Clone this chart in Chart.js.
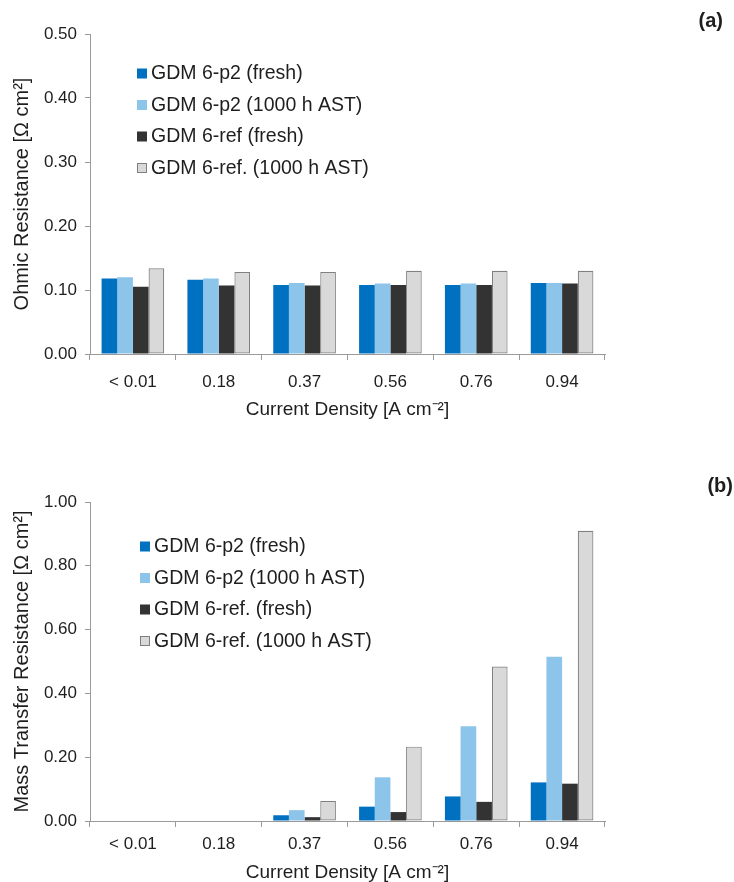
<!DOCTYPE html>
<html>
<head>
<meta charset="utf-8">
<script src="https://cdn.jsdelivr.net/npm/chart.js@4.4.1/dist/chart.umd.min.js"></script>
<style>
  body { margin: 0; background: #fff; }
  .painel { position: absolute; left: 0; width: 734px; height: 441px; }
</style>
</head>
<body>
<div class="painel" style="top:0"><canvas id="graficoA" width="734" height="441"></canvas></div>
<div class="painel" style="top:441px"><canvas id="graficoB" width="734" height="441"></canvas></div>
<script>
// categorias (densidade de corrente)
const categorias = ['< 0.01', '0.18', '0.37', '0.56', '0.76', '0.94'];

// (a) resistência ôhmica
const ohmP2Fresco = [0.118, 0.116, 0.108, 0.108, 0.108, 0.111];
const ohmP2Ast = [0.120, 0.118, 0.111, 0.110, 0.110, 0.111];
const ohmRefFresco = [0.105, 0.107, 0.107, 0.108, 0.108, 0.110];
const ohmRefAst = [0.134, 0.128, 0.128, 0.130, 0.130, 0.130];
const ticksA = [0, 0.1, 0.2, 0.3, 0.4, 0.5];

// (b) resistência de transferência de massa
const mtP2Fresco = [0, 0, 0.018, 0.045, 0.077, 0.121];
const mtP2Ast = [0, 0, 0.034, 0.137, 0.297, 0.515];
const mtRefFresco = [0, 0, 0.012, 0.028, 0.060, 0.117];
const mtRefAst = [0, 0, 0.063, 0.233, 0.484, 0.910];
const ticksB = [0, 0.2, 0.4, 0.6, 0.8, 1.0];

const fonte = '"Liberation Sans", Arial, sans-serif';
const corTexto = '#1e1e1e';
const corEixo = '#9a9a9a';

const legendaFixa = {
  id: 'legendaFixa',
  afterDraw(chart, args, opts) {
    const ctx = chart.ctx;
    ctx.save();
    ctx.font = '19.5px ' + fonte;
    ctx.textBaseline = 'middle';
    chart.data.datasets.forEach((ds, i) => {
      const y = opts.y + i * opts.passo;
      ctx.fillStyle = ds.backgroundColor;
      ctx.fillRect(opts.x, y - 4.5, 10, 10);
      if (ds.borderWidth) {
        ctx.strokeStyle = ds.borderColor;
        ctx.lineWidth = 1;
        ctx.strokeRect(opts.x + 0.5, y - 4, 9, 9);
      }
      ctx.fillStyle = corTexto;
      ctx.fillText(ds.label, opts.x + 14, y + 1);
    });
    // rótulo do painel
    ctx.font = 'bold 20px ' + fonte;
    ctx.textAlign = 'right';
    ctx.fillText(opts.rotulo, opts.rx, opts.ry);
    ctx.restore();
  }
};

function conjuntos(v1, v2, v3, v4, nomes) {
  return [
    { label: nomes[0], data: v1, backgroundColor: '#0070c0', borderWidth: 0 },
    { label: nomes[1], data: v2, backgroundColor: '#8dc4e9', borderWidth: 0 },
    { label: nomes[2], data: v3, backgroundColor: '#333333', borderWidth: 0 },
    { label: nomes[3], data: v4, backgroundColor: '#d9d9d9', borderColor: '#808080', borderWidth: 1.2, borderSkipped: false }
  ];
}

function criarGrafico(id, datasets, tituloY, ticks, topo, alturaX, padTicksX, tituloPadX, legenda) {
  const ctx = document.getElementById(id).getContext('2d');
  return new Chart(ctx, {
    type: 'bar',
    data: { labels: categorias, datasets: datasets },
    plugins: [legendaFixa],
    options: {
      responsive: false,
      animation: false,
      layout: { padding: { top: topo, right: 129, left: 0, bottom: 0 } },
      datasets: { bar: { categoryPercentage: 0.73, barPercentage: 1.0 } },
      plugins: {
        legend: { display: false },
        tooltip: { enabled: false },
        legendaFixa: legenda
      },
      scales: {
        x: {
          afterFit: s => { s.height = alturaX; },
          grid: { drawOnChartArea: false, tickLength: 6, color: corEixo, offset: true },
          border: { color: corEixo },
          ticks: { color: corTexto, font: { family: fonte, size: 17 }, padding: padTicksX },
          title: {
            display: true, text: 'Current Density [A cm⁻²]',
            color: corTexto, font: { family: fonte, size: 19 }, padding: tituloPadX
          }
        },
        y: {
          min: ticks[0], max: ticks[ticks.length - 1],
          afterFit: s => { s.width = 90; },
          afterBuildTicks: s => { s.ticks = ticks.map(v => ({ value: v })); },
          grid: { drawOnChartArea: false, tickLength: 5, color: corEixo },
          border: { color: corEixo },
          ticks: {
            color: corTexto, font: { family: fonte, size: 17 }, padding: 8,
            callback: v => v.toFixed(2)
          },
          title: {
            display: true, text: tituloY,
            color: corTexto, font: { family: fonte, size: 20 }, padding: { top: 10, bottom: 0 }
          }
        }
      }
    }
  });
}

criarGrafico('graficoA',
  conjuntos(ohmP2Fresco, ohmP2Ast, ohmRefFresco, ohmRefAst,
    ['GDM 6-p2 (fresh)', 'GDM 6-p2 (1000 h AST)', 'GDM 6-ref (fresh)', 'GDM 6-ref. (1000 h AST)']),
  'Ohmic Resistance [Ω cm²]', ticksA, 34, 87, 12, { top: 4, bottom: 20 },
  { x: 137, y: 73, passo: 31.5, rotulo: '(a)', rx: 723, ry: 21 });

criarGrafico('graficoB',
  conjuntos(mtP2Fresco, mtP2Ast, mtRefFresco, mtRefAst,
    ['GDM 6-p2 (fresh)', 'GDM 6-p2 (1000 h AST)', 'GDM 6-ref. (fresh)', 'GDM 6-ref. (1000 h AST)']),
  'Mass Transfer Resistance [Ω cm²]', ticksB, 61, 61, 7, { top: 2, bottom: -2 },
  { x: 140, y: 105, passo: 31.5, rotulo: '(b)', rx: 733, ry: 45 });
</script>
</body>
</html>
